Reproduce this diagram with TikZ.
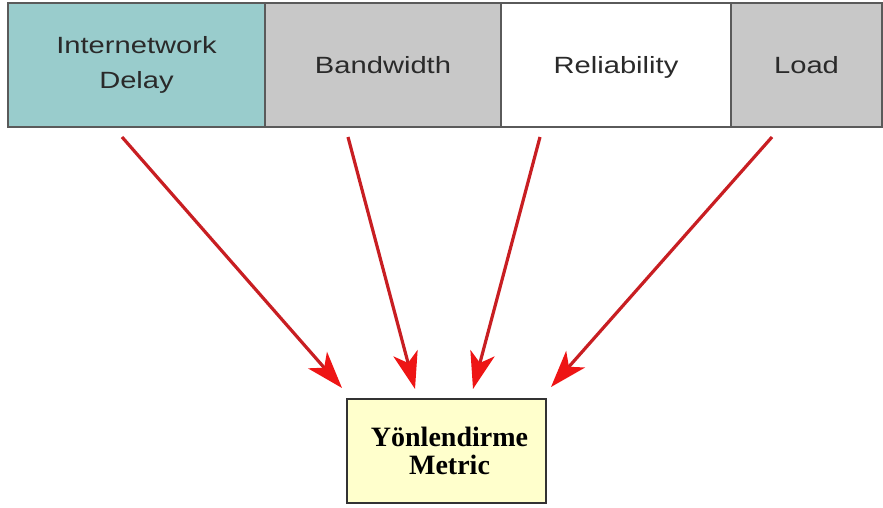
\documentclass[tikz,border=0pt]{standalone}
\usepackage{fontspec}
\setmainfont{Liberation Serif}
\newfontfamily\labelfont[FakeStretch=1.24]{Liberation Sans}
\usetikzlibrary{arrows.meta}
\definecolor{tealfill}{HTML}{99CCCC}
\definecolor{grayfill}{HTML}{C8C8C8}
\definecolor{yellowfill}{HTML}{FFFFCC}
\definecolor{boxline}{HTML}{5A5A5A}
\definecolor{txtgray}{HTML}{2A2A2A}
\definecolor{shaft}{HTML}{C81E22}
\definecolor{headred}{HTML}{EE1515}
\begin{document}
\begin{tikzpicture}[x=1pt,y=-1pt,
  topbox/.style={draw=boxline, line width=1.8pt, minimum height=124pt, inner sep=0pt,
    align=center, text=txtgray, font=\labelfont\fontsize{23.5}{35}\selectfont},
  resultbox/.style={draw=black!80, line width=2pt, fill=yellowfill, minimum width=199pt,
    minimum height=104pt, inner sep=0pt, align=center,
    font=\bfseries\fontsize{28}{28}\selectfont},
  redarrow/.style={draw=shaft, line width=3.2pt,
    -{Stealth[length=37pt, width=25pt, inset=10pt, color=headred]}}]
\useasboundingbox (0,0) rectangle (883,507);
\node[topbox, fill=tealfill, minimum width=257pt] (delay) at (136.5,65) {Internetwork\\Delay};
\node[topbox, fill=grayfill, minimum width=236pt] (bw) at (383,65) {Bandwidth};
\node[topbox, fill=white, minimum width=230pt, text depth=0pt] (rel) at (616,65) {Reliability};
\node[topbox, fill=grayfill, minimum width=151pt] (load) at (806.5,65) {Load};
\node[resultbox] (metric) at (446.5,451) {\hspace*{6pt}Yönlendirme\\\hspace*{6pt}Metric};
\coordinate (s1) at (122,137);
\coordinate (s2) at (348,137);
\coordinate (s3) at (540,137);
\coordinate (s4) at (772,137);
\coordinate (t1) at (342,388);
\coordinate (t2) at (415,389);
\coordinate (t3) at (473,389);
\coordinate (t4) at (551,387);
\draw[redarrow] (s1) -- (t1);
\draw[redarrow] (s2) -- (t2);
\draw[redarrow] (s3) -- (t3);
\draw[redarrow] (s4) -- (t4);
\end{tikzpicture}
\end{document}
